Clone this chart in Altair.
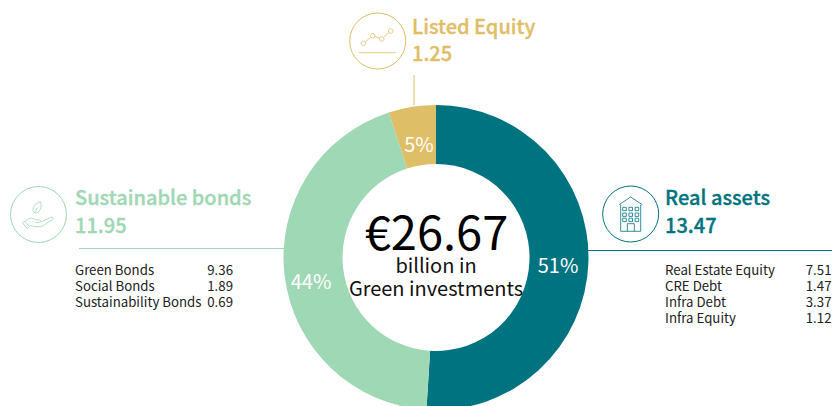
import altair as alt
import pandas as pd

# ---- data ----
segments = ["Real assets", "Sustainable bonds", "Listed Equity"]
segment_shares = [51, 44, 5]
segment_colors = ["#007380", "#9FD8B4", "#DFBE68"]
percent_labels = ["51%", "44%", "5%"]
totals = ["13.47", "11.95", "1.25"]
center_lines = ["€26.67", "billion in", "Green investments"]
bond_names = ["Green Bonds", "Social Bonds", "Sustainability Bonds"]
bond_values = ["9.36", "1.89", "0.69"]
asset_names = ["Real Estate Equity", "CRE Debt", "Infra Debt", "Infra Equity"]
asset_values = ["7.51", "1.47", "3.37", "1.12"]

FONT = "Noto Sans CJK SC"
TEAL, GREEN, GOLD = segment_colors
INK = "#222222"


def px(x):
    return x - 8


def text(value, x, y, size, color, align="left", weight="normal", stroke=0):
    kw = {"stroke": color, "strokeWidth": stroke} if stroke else {}
    return alt.Chart(pd.DataFrame({"t": [value]})).mark_text(
        font=FONT, fontSize=size, color=color, align=align, baseline="alphabetic",
        fontWeight=weight, x=px(x), y=px(y), **kw,
    ).encode(text="t:N")


def rule(x1, y1, x2, y2, color):
    return alt.Chart(pd.DataFrame({"a": [0]})).mark_rule(color=color, strokeWidth=1).encode(
        x=alt.value(px(x1)), x2=alt.value(px(x2)), y=alt.value(px(y1)), y2=alt.value(px(y2))
    )


def icon(path, cx, cy, color):
    return alt.Chart(pd.DataFrame({"a": [0]})).mark_point(
        shape=path, size=4, filled=False, stroke=color, strokeWidth=0.8, opacity=1
    ).encode(x=alt.value(px(cx)), y=alt.value(px(cy)))


def ring(cx, cy, color):
    return alt.Chart(pd.DataFrame({"a": [0]})).mark_point(
        shape="circle", size=56 * 56, filled=False, stroke=color, strokeWidth=1, opacity=1
    ).encode(x=alt.value(px(cx)), y=alt.value(px(cy)))


def dot(x, y, r=2.3):
    return f"M{x - r} {y}a{r} {r} 0 1 0 {2 * r} 0a{r} {r} 0 1 0 {-2 * r} 0Z"


chart_icon = (
    dot(-14.3, 2.3) + dot(-5, -5.3) + dot(4, -2) + dot(13, -10)
    + "M-12.4 0.8L-6.8 -3.8M-2.9 -4.4L1.9 -2.9M5.9 -3.4L11 -8.5M-19 11.7L18 11.7"
)
window_boxes = "".join(
    f"M{x} {y}h3.6v3.4h-3.6Z" for x in (-8, -1.8, 4.4) for y in (-6.7, -1, 4.2)
)
building_icon = (
    "M-11.6 -9.3L0 -17L11.6 -9.3M-10 -9.3L-10 17.3L10 17.3L10 -9.3"
    "M-3.4 17.3L-3.4 9.7L3.6 9.7L3.6 17.3" + window_boxes
)
leaf_icon = (
    "M-4 -1.5C-7 -4 -6 -10 2 -13C4 -7 1 -1 -4 -1.5ZM-4 -1.5L-1 -7"
    "M-13 7C-10 3 -6 3 -3 5L1 5.5C3 6 2 8 0 8L-3 8M2 7.5L12 3C15 2 15 4 14 5L4 11.5C1 13 -4 12 -8 11"
    "M-14 6.5L-9 12L-11 14L-16 8.5Z"
)

donut = (
    alt.Chart(pd.DataFrame({"segment": segments, "value": segment_shares, "order": [0, 1, 2]}))
    .mark_arc(innerRadius=93.5, outerRadius=152.5, clip=False)
    .encode(
        theta=alt.Theta("value:Q", stack=True),
        order=alt.Order("order:O"),
        color=alt.Color(
            "segment:N",
            scale=alt.Scale(domain=segments, range=segment_colors),
            legend=None,
        ),
        x=alt.value(px(436)),
        y=alt.value(px(257.5)),
    )
)

layers = [donut]

layers += [
    rule(79, 248.5, 284, 248.5, GREEN),
    rule(588, 250.5, 832, 250.5, TEAL),
    rule(414, 75, 414, 105, GOLD),
]

layers += [
    ring(377.7, 41, GOLD), icon(chart_icon, 377.7, 41, GOLD),
    ring(38.5, 214.5, GREEN), icon(leaf_icon, 38.5, 214.5, GREEN),
    ring(630.7, 214, TEAL), icon(building_icon, 630.7, 214, TEAL),
]

HEAD = 20
HW = 500
HS = 0.35
layers += [
    text(segments[2], 412, 34, HEAD, GOLD, weight=HW, stroke=HS),
    text(totals[2], 412, 61, HEAD, GOLD, weight=HW, stroke=HS),
    text(segments[1], 75, 205, HEAD, GREEN, weight=HW, stroke=HS),
    text(totals[1], 75, 233, HEAD, GREEN, weight=HW, stroke=HS),
    text(segments[0], 665, 205, HEAD, TEAL, weight=HW, stroke=HS),
    text(totals[0], 665, 233, HEAD, TEAL, weight=HW, stroke=HS),
]

ROW = 13.25
for i, (name, val) in enumerate(zip(bond_names, bond_values)):
    layers += [text(name, 75, 275 + 16 * i, ROW, INK), text(val, 233, 275 + 16 * i, ROW, INK, align="right")]
for i, (name, val) in enumerate(zip(asset_names, asset_values)):
    layers += [text(name, 665, 275 + 16 * i, ROW, INK), text(val, 831.5, 275 + 16 * i, ROW, INK, align="right")]

layers += [
    text(percent_labels[0], 558, 272.7, 20, "#FFFFFF", align="center"),
    text(percent_labels[1], 311, 289, 20, "#FFFFFF", align="center"),
    text(percent_labels[2], 419, 151.7, 20, "#FFFFFF", align="center"),
]

layers += [
    text(center_lines[0], 436.5, 250, 47, "#000000", align="center"),
    text(center_lines[1], 436, 273, 20, "#111111", align="center"),
    text(center_lines[2], 436, 296, 20, "#111111", align="center"),
]

chart = (
    alt.layer(*layers)
    .properties(width=824, height=398, padding=0, autosize=alt.AutoSizeParams(type="none"), background="#FFFFFF")
    .configure_view(stroke=None)
)

chart.save("out.html", embed_options={"renderer": "svg", "actions": False})
